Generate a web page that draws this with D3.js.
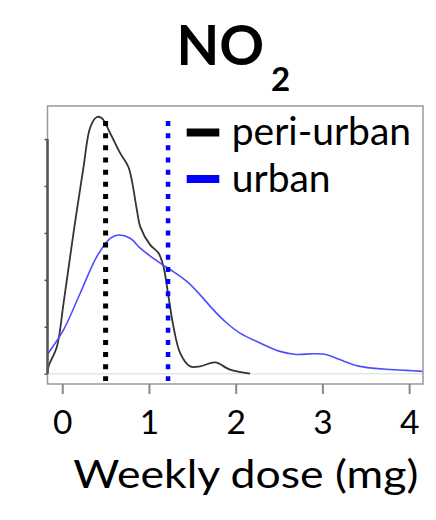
<!DOCTYPE html>
<html>
<head>
<meta charset="utf-8">
<script src="https://cdn.jsdelivr.net/npm/d3@7"></script>
<style>
  body { margin: 0; background: #fff; }
  text { font-family: Lato, "Open Sans", sans-serif; fill: #000; }
</style>
</head>
<body>
<div id="chart"></div>
<script>
// density of weekly NO2 dose
var periX = [-0.17, -0.158, -0.061, 0.015, 0.13, 0.245, 0.323, 0.40, 0.457, 0.553, 0.668, 0.764, 0.86, 0.899, 1.014, 1.11, 1.167, 1.225, 1.282, 1.36, 1.475, 1.59, 1.763, 1.935, 2.166];
var periY = [0.0, 0.031, 0.116, 0.30, 0.60, 0.88, 1.05, 1.094, 1.089, 1.025, 0.94, 0.88, 0.70, 0.627, 0.549, 0.514, 0.457, 0.329, 0.201, 0.088, 0.031, 0.031, 0.048, 0.017, 0.0];

var urbanX = [-0.17, -0.158, 0.015, 0.207, 0.40, 0.553, 0.649, 0.783, 0.899, 1.129, 1.282, 1.437, 1.59, 1.743, 1.897, 2.05, 2.28, 2.51, 2.70, 2.895, 3.05, 3.20, 3.433, 3.70, 3.97, 4.155];
var urbanY = [0.08, 0.088, 0.187, 0.343, 0.50, 0.577, 0.591, 0.577, 0.535, 0.471, 0.435, 0.393, 0.336, 0.272, 0.216, 0.173, 0.131, 0.095, 0.082, 0.085, 0.081, 0.06, 0.031, 0.020, 0.014, 0.010];

var groups = ['peri-urban', 'urban'];
var colors = ['#000', '#0000ff'];
var curveColors = ['#333', '#4d4dff'];
var medians = [0.5, 1.22];

var xTicks = [0, 1, 2, 3, 4];
var yTicks = [0, 0.2, 0.4, 0.6, 0.8, 1.0];

var w = 436, h = 520;
var mLeft = 47.5, mRight = 423, mTop = 106, mBottom = 384;

var svg = d3.select('#chart').append('svg')
  .attr('width', w)
  .attr('height', h);

var x = d3.scaleLinear().domain([-0.17, 4.16]).range([mLeft, mRight]);
var y = d3.scaleLinear().domain([-0.044, 1.141]).range([mBottom, mTop]);

svg.append('clipPath').attr('id', 'clip')
  .append('rect')
  .attr('x', mLeft).attr('y', mTop)
  .attr('width', mRight - mLeft).attr('height', mBottom - mTop);

// zero line
svg.append('line')
  .attr('x1', mLeft).attr('x2', mRight)
  .attr('y1', y(0)).attr('y2', y(0))
  .attr('stroke', '#e6e6e6')
  .attr('stroke-width', 1.5);

// density curves
var line = d3.line()
  .x(function(d) { return x(d[0]); })
  .y(function(d) { return y(d[1]); })
  .curve(d3.curveCatmullRom.alpha(0.5));

var series = [d3.zip(periX, periY), d3.zip(urbanX, urbanY)];

svg.append('g').attr('clip-path', 'url(#clip)')
  .selectAll('path')
  .data(series)
  .enter().append('path')
  .attr('d', line)
  .attr('fill', 'none')
  .attr('stroke', function(d, i) { return curveColors[i]; })
  .attr('stroke-width', function(d, i) { return i == 0 ? 1.8 : 1.6; });

// dotted median lines
svg.selectAll('line.median')
  .data(medians)
  .enter().append('line')
  .attr('class', 'median')
  .attr('x1', function(d) { return x(d); })
  .attr('x2', function(d) { return x(d); })
  .attr('y1', y(1.077))
  .attr('y2', y(-0.031))
  .attr('stroke', function(d, i) { return colors[i]; })
  .attr('stroke-width', function(d, i) { return i == 0 ? 5 : 4.5; })
  .attr('stroke-dasharray', '5,7.16');

// box
svg.append('rect')
  .attr('x', mLeft).attr('y', mTop)
  .attr('width', mRight - mLeft).attr('height', mBottom - mTop)
  .attr('fill', 'none')
  .attr('stroke', '#999')
  .attr('stroke-width', 1.5);

// y axis (no labels)
var yAxis = svg.append('g')
  .attr('transform', 'translate(' + mLeft + ',0)')
  .call(d3.axisLeft(y).tickValues(yTicks).tickSize(3).tickFormat(''));
yAxis.select('.domain').remove();
yAxis.selectAll('line').attr('stroke', '#555').attr('stroke-width', 1.5);
yAxis.append('line')
  .attr('y1', y(0)).attr('y2', y(1))
  .attr('stroke', '#555')
  .attr('stroke-width', 2.5);

// x axis
var xAxis = svg.append('g')
  .attr('transform', 'translate(0,' + mBottom + ')')
  .call(d3.axisBottom(x).tickValues(xTicks).tickSize(10).tickFormat(d3.format('d')));
xAxis.select('.domain').remove();
xAxis.selectAll('line').attr('stroke', '#888').attr('stroke-width', 2);
xAxis.selectAll('text')
  .attr('y', 50)
  .attr('dy', 0)
  .style('font-family', 'Lato, sans-serif')
  .style('font-size', '33.5px')
  .attr('fill', '#000');

svg.append('text')
  .attr('x', 73.3)
  .attr('y', 488)
  .attr('textLength', 345)
  .attr('lengthAdjust', 'spacingAndGlyphs')
  .style('font-size', '38px')
  .text('Weekly dose (mg)');

// title
var title = svg.append('text')
  .attr('x', 176.5)
  .attr('y', 65)
  .style('font-size', '55.5px')
  .style('font-weight', 'bold')
  .text('NO');
title.append('tspan')
  .attr('dx', 7)
  .attr('dy', 26)
  .style('font-size', '33px')
  .text('2');

// legend
var legend = svg.selectAll('g.legend')
  .data(groups)
  .enter().append('g')
  .attr('class', 'legend');

legend.append('line')
  .attr('x1', 186.7).attr('x2', 219.3)
  .attr('y1', function(d, i) { return 132.5 + i * 46.5; })
  .attr('y2', function(d, i) { return 132.5 + i * 46.5; })
  .attr('stroke', function(d, i) { return colors[i]; })
  .attr('stroke-width', 8);

legend.append('text')
  .attr('x', 231.7)
  .attr('y', function(d, i) { return 145 + i * 46.7; })
  .style('font-size', '39px')
  .text(function(d) { return d; });
</script>
</body>
</html>
